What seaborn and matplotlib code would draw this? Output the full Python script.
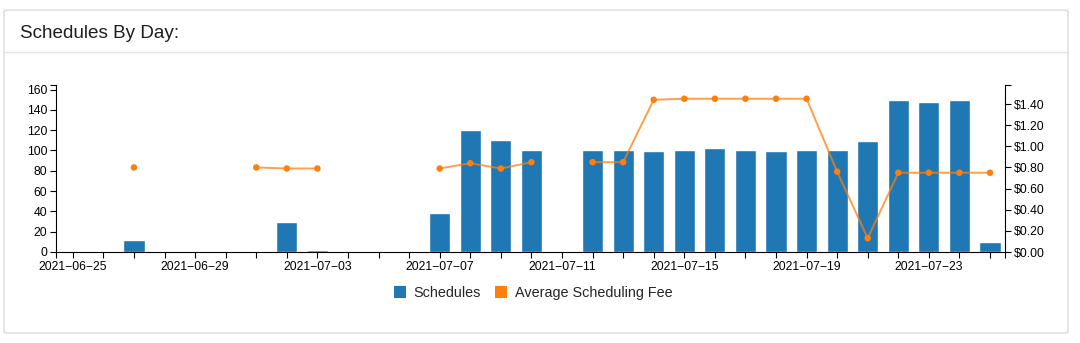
import numpy as np
import pandas as pd
import matplotlib
matplotlib.use("Agg")
import matplotlib.pyplot as plt
from matplotlib.patches import FancyBboxPatch, Patch
from matplotlib.lines import Line2D
import seaborn as sns

# ---- data ----
dates = ["2021-06-25", "2021-06-26", "2021-06-27", "2021-06-28", "2021-06-29", "2021-06-30",
         "2021-07-01", "2021-07-02", "2021-07-03", "2021-07-04", "2021-07-05", "2021-07-06",
         "2021-07-07", "2021-07-08", "2021-07-09", "2021-07-10", "2021-07-11", "2021-07-12",
         "2021-07-13", "2021-07-14", "2021-07-15", "2021-07-16", "2021-07-17", "2021-07-18",
         "2021-07-19", "2021-07-20", "2021-07-21", "2021-07-22", "2021-07-23", "2021-07-24",
         "2021-07-25"]
schedules = [np.nan, np.nan, 12, np.nan, np.nan, np.nan,
             1, 30, 2, np.nan, np.nan, np.nan,
             38, 120, 110, 100, np.nan, 100,
             100, 99, 100, 102, 100, 99,
             100, 100, 109, 150, 148, 150,
             10]
avg_fee = [np.nan, np.nan, 0.80, np.nan, np.nan, np.nan,
           0.80, 0.79, 0.79, np.nan, np.nan, np.nan,
           0.79, 0.84, 0.79, 0.85, np.nan, 0.85,
           0.85, 1.44, 1.45, 1.45, 1.45, 1.45,
           1.45, 0.76, 0.13, 0.75, 0.75, 0.75,
           0.75]
tick_label_every = 4

BLUE = "#1f77b4"
ORANGE = "#ff7f0e"

df = pd.DataFrame({"date": dates, "schedules": schedules, "fee": avg_fee})
df["idx"] = np.arange(len(df))
# segments of consecutive non-missing fees (line breaks at gaps)
df["seg"] = df["fee"].isna().cumsum()

sns.set_style("white")
plt.rcParams["font.family"] = ["Liberation Sans", "DejaVu Sans"]

fig = plt.figure(figsize=(10.8, 3.43), dpi=100)
W, H = 1080, 343

# card
card = FancyBboxPatch((4 / W, 10 / H), 1064 / W, 323 / H,
                      boxstyle="round,pad=0,rounding_size=0.004",
                      transform=fig.transFigure, facecolor="white",
                      edgecolor="#e0e0e0", linewidth=1.2, zorder=-10)
fig.patches.append(card)
fig.add_artist(Line2D([4 / W, 1068 / W], [1 - 52 / H, 1 - 52 / H],
                      transform=fig.transFigure, color="#e4e4e4", lw=1.0, zorder=-5))
fig.text(20 / W, 1 - 34 / H, "Schedules By Day:", fontsize=13.6,
         color="#1e1e1e", va="center", ha="left")

ax = fig.add_axes([56 / W, 91 / H, (1005 - 56) / W, (252 - 85) / H], zorder=1)
ax.set_facecolor("none")

sns.barplot(data=df.dropna(subset=["schedules"]), x="idx", y="schedules",
            native_scale=True, color=BLUE, saturation=1, width=0.69,
            errorbar=None, ax=ax, zorder=2)

ax2 = ax.twinx()
ax2.set_zorder(2)
ax2.set_facecolor("none")
fee_df = df.dropna(subset=["fee"])
sns.lineplot(data=fee_df, x="idx", y="fee", units="seg", estimator=None,
             color=ORANGE, lw=1.4, alpha=0.75, ax=ax2, legend=False)
sns.scatterplot(data=fee_df, x="idx", y="fee", color=ORANGE, s=22,
                edgecolor="none", ax=ax2, legend=False, zorder=5)

xmin, xmax = -0.55, 30.49
ax.set_xlim(xmin, xmax)
ax2.set_xlim(xmin, xmax)
ax.set_ylim(0, 164.5)
ax2.set_ylim(0, 1.58)

# x ticks
ax.set_xticks(df["idx"])
ax.set_xticklabels([d.replace("-", "\u2212") if i % tick_label_every == 0 else ""
                    for i, d in enumerate(df["date"])])
ax.set_xticks([xmin, xmax], minor=True)
ax.set_yticks(np.arange(0, 161, 20))
ax.set_yticks([164.5], minor=True)
ax2.set_yticks(np.arange(0, 1.41, 0.2))
ax2.set_yticklabels([f"${v:.2f}" for v in np.arange(0, 1.41, 0.2)])
ax2.set_yticks([1.58], minor=True)

for a in (ax, ax2):
    a.set_xlabel("")
    a.set_ylabel("")
    a.tick_params(which="both", length=4.3, width=0.8, color="black",
                  labelsize=8.8, labelcolor="black", pad=2)
    a.tick_params(which="minor", labelleft=False, labelright=False, labelbottom=False)
    for s in a.spines.values():
        s.set_linewidth(0.8)
        s.set_color("black")
    a.spines["top"].set_visible(False)
ax.spines["right"].set_visible(False)
ax2.spines["left"].set_visible(False)
ax2.spines["bottom"].set_visible(False)
ax.tick_params(axis="y", left=True, which="both")
ax.tick_params(axis="x", bottom=True, which="both")
ax2.tick_params(axis="y", right=True, which="both")
ax.grid(False)
ax2.grid(False)

handles = [Patch(facecolor=BLUE, edgecolor="none", label="Schedules"),
           Patch(facecolor=ORANGE, edgecolor="none", label="Average Scheduling Fee")]
fig.legend(handles=handles, loc="center", bbox_to_anchor=(533 / W, 1 - 293 / H),
           ncol=2, frameon=False, fontsize=10.4, handlelength=0.85, handleheight=0.85,
           handletextpad=0.5, columnspacing=1.0)

fig.savefig("out.png", dpi=100)
